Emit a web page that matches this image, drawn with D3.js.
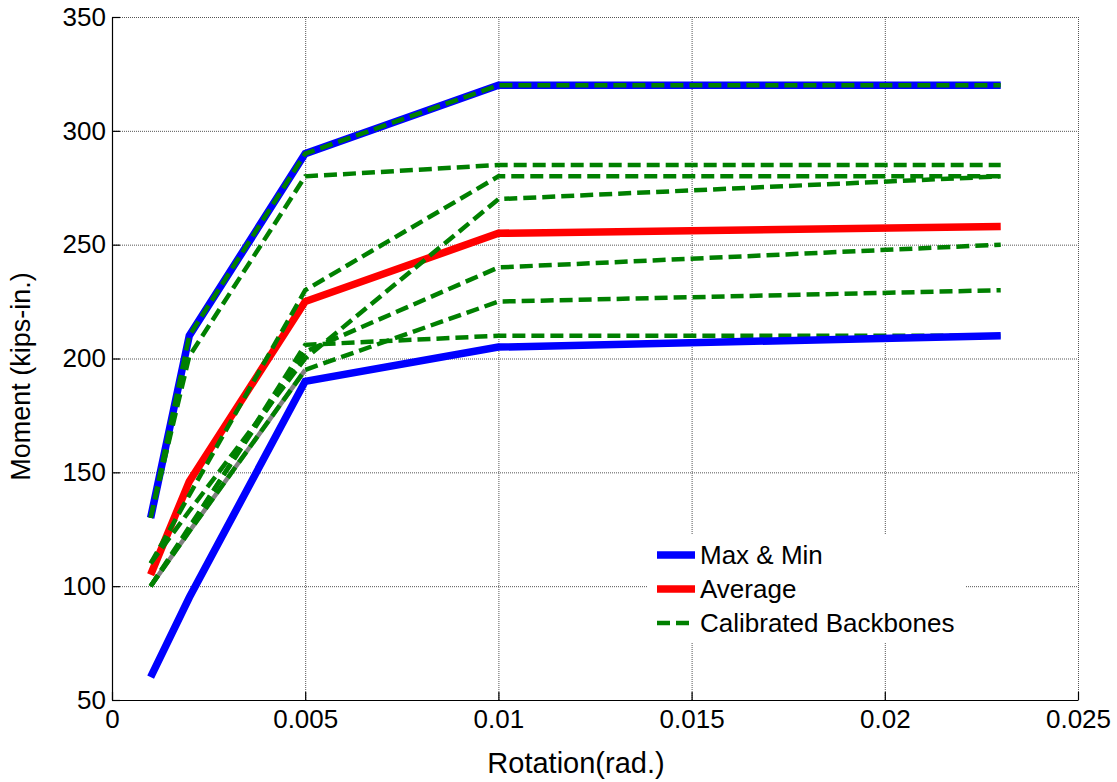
<!DOCTYPE html>
<meta charset="utf-8">
<script src="https://d3js.org/d3.v7.min.js"></script>
<style>
  body { margin: 0; background: #fff; }
  text { font-family: "Liberation Sans", Arial, sans-serif; }
</style>
<div id="chart"></div>
<script>

// rotation points (rad.)
var rotation = [0.001, 0.002, 0.005, 0.01, 0.023];

// envelope and average
var maxMoment = [130, 210, 290, 320, 320];
var minMoment = [60, 95, 190, 205, 210];
var avgMoment = [105, 146, 225, 255, 258];

// calibrated backbones (one array per backbone)
var backbone1 = [130, 210, 290, 320, 320];
var backbone2 = [130, 201, 280, 285, 285];
var backbone3 = [110, 140, 230, 280, 280];
var backbone4 = [110, 133, 200, 270, 280];
var backbone5 = [100, 126, 203, 240, 250];
var backbone6 = [100, 124, 195, 225, 230];
var backbone7 = [100, 125, 206, 210, 210];
var backbones = [backbone1, backbone2, backbone3, backbone4, backbone5, backbone6, backbone7];

// grey trace hidden under one backbone (first three points)
var greyTrace = [100, 124, 195];

var xTicks = [0, 0.005, 0.01, 0.015, 0.02, 0.025];
var yTicks = [50, 100, 150, 200, 250, 300, 350];
var legendLabels = ["Max & Min", "Average", "Calibrated Backbones"];

var margin = {top: 17, right: 39, bottom: 82, left: 112},
    width = 1117 - margin.left - margin.right,
    height = 782 - margin.top - margin.bottom;

var svg = d3.select("#chart")
  .append("svg")
    .attr("width", 1117)
    .attr("height", 782)
  .append("g")
    .attr("transform", "translate(" + margin.left + "," + margin.top + ")");

var x = d3.scaleLinear().domain([0, 0.025]).range([0, width]);
var y = d3.scaleLinear().domain([50, 350]).range([height, 0]);

// grid
svg.append("g")
  .attr("class", "grid")
  .attr("transform", "translate(0," + height + ")")
  .call(d3.axisBottom(x).tickValues(xTicks.slice(1)).tickSize(-height).tickFormat(""));
svg.append("g")
  .attr("class", "grid")
  .call(d3.axisLeft(y).tickValues(yTicks.slice(1)).tickSize(-width).tickFormat(""));
svg.selectAll(".grid .domain").remove();
svg.selectAll(".grid line")
  .attr("stroke", "#555")
  .attr("stroke-width", 1)
  .attr("stroke-dasharray", "1,1");

// axes
var xAxis = svg.append("g")
  .attr("transform", "translate(0," + height + ")")
  .call(d3.axisBottom(x).tickValues(xTicks).tickSizeInner(-8).tickSizeOuter(0).tickPadding(10)
    .tickFormat(function(d) { return d === 0 ? "0" : String(+d.toFixed(3)); }));
var yAxis = svg.append("g")
  .call(d3.axisLeft(y).tickValues(yTicks).tickSizeInner(-8).tickSizeOuter(0).tickPadding(6)
    .tickFormat(d3.format("d")));
[xAxis, yAxis].forEach(function(a) {
  a.selectAll("text").attr("font-size", 26).attr("fill", "#000")
    .style("font-family", "'Liberation Sans', Arial, sans-serif");
  a.selectAll("line, path").attr("stroke", "#000").attr("stroke-width", 1.2);
});

// axis labels
svg.append("text")
  .attr("x", 576 - margin.left)
  .attr("y", height + 73)
  .attr("text-anchor", "middle")
  .attr("font-size", 29)
  .text("Rotation(rad.)");
svg.append("text")
  .attr("transform", "translate(-82," + (height / 2 + 18) + ") rotate(-90)")
  .attr("text-anchor", "middle")
  .attr("font-size", 27)
  .text("Moment (kips-in.)");

var line = d3.line()
  .x(function(d, i) { return x(rotation[i]); })
  .y(function(d) { return y(d); });

function drawLine(vals, color, w, dash) {
  svg.append("path")
    .datum(vals)
    .attr("fill", "none")
    .attr("stroke", color)
    .attr("stroke-width", w)
    .attr("stroke-linejoin", "miter")
    .attr("stroke-dasharray", dash || null)
    .attr("d", line);
}

drawLine(maxMoment, "#0000ff", 7.5);
drawLine(avgMoment, "#ff0000", 7.5);
drawLine(greyTrace, "#808080", 4.5);
backbones.forEach(function(b) { drawLine(b, "#008000", 4.5, "13,6"); });
drawLine(minMoment, "#0000ff", 7.5);

// legend
var legend = svg.append("g")
  .attr("transform", "translate(" + (647 - margin.left) + "," + (535 - margin.top) + ")");
legend.append("rect")
  .attr("width", 318)
  .attr("height", 108)
  .attr("fill", "#fff");
var legendColors = ["#0000ff", "#ff0000", "#008000"];
legendLabels.forEach(function(lab, i) {
  var ly = 20 + i * 34;
  legend.append("line")
    .attr("x1", 10).attr("x2", 48)
    .attr("y1", ly).attr("y2", ly)
    .attr("stroke", legendColors[i])
    .attr("stroke-width", i < 2 ? 7.5 : 4.5)
    .attr("stroke-dasharray", i < 2 ? null : "13,6");
  legend.append("text")
    .attr("x", 53)
    .attr("y", ly)
    .attr("dy", "0.35em")
    .attr("font-size", 26)
    .text(lab);
});

</script>
